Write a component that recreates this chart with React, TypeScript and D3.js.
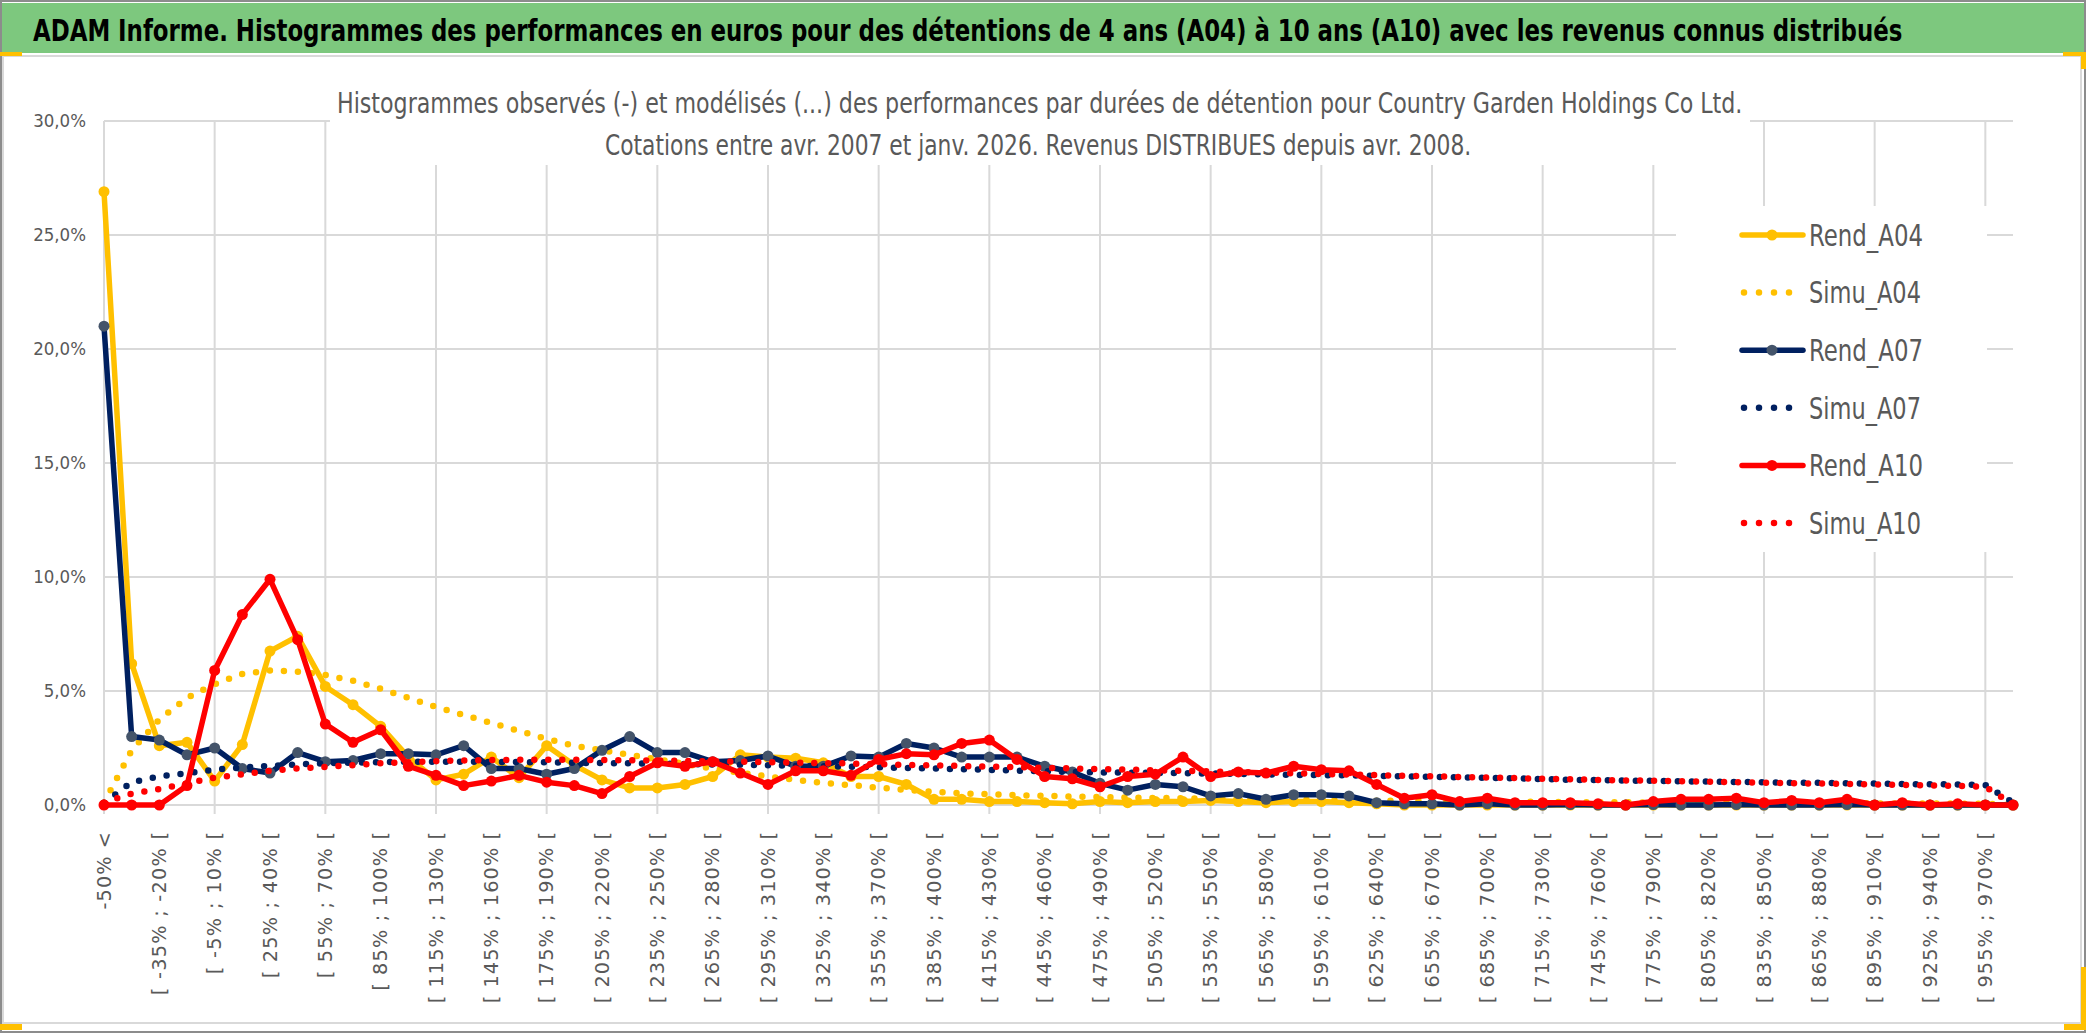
import React, { useLayoutEffect, useRef } from 'react';
import * as d3 from 'd3';

const W = 2086;
const H = 1033;

const categories = [
  '-50% <', '[ -50% ; -35% [', '[ -35% ; -20% [', '[ -20% ; -5% [', '[ -5% ; 10% [', '[ 10% ; 25% [',
  '[ 25% ; 40% [', '[ 40% ; 55% [', '[ 55% ; 70% [', '[ 70% ; 85% [', '[ 85% ; 100% [', '[ 100% ; 115% [',
  '[ 115% ; 130% [', '[ 130% ; 145% [', '[ 145% ; 160% [', '[ 160% ; 175% [', '[ 175% ; 190% [', '[ 190% ; 205% [',
  '[ 205% ; 220% [', '[ 220% ; 235% [', '[ 235% ; 250% [', '[ 250% ; 265% [', '[ 265% ; 280% [', '[ 280% ; 295% [',
  '[ 295% ; 310% [', '[ 310% ; 325% [', '[ 325% ; 340% [', '[ 340% ; 355% [', '[ 355% ; 370% [', '[ 370% ; 385% [',
  '[ 385% ; 400% [', '[ 400% ; 415% [', '[ 415% ; 430% [', '[ 430% ; 445% [', '[ 445% ; 460% [', '[ 460% ; 475% [',
  '[ 475% ; 490% [', '[ 490% ; 505% [', '[ 505% ; 520% [', '[ 520% ; 535% [', '[ 535% ; 550% [', '[ 550% ; 565% [',
  '[ 565% ; 580% [', '[ 580% ; 595% [', '[ 595% ; 610% [', '[ 610% ; 625% [', '[ 625% ; 640% [', '[ 640% ; 655% [',
  '[ 655% ; 670% [', '[ 670% ; 685% [', '[ 685% ; 700% [', '[ 700% ; 715% [', '[ 715% ; 730% [', '[ 730% ; 745% [',
  '[ 745% ; 760% [', '[ 760% ; 775% [', '[ 775% ; 790% [', '[ 790% ; 805% [', '[ 805% ; 820% [', '[ 820% ; 835% [',
  '[ 835% ; 850% [', '[ 850% ; 865% [', '[ 865% ; 880% [', '[ 880% ; 895% [', '[ 895% ; 910% [', '[ 910% ; 925% [',
  '[ 925% ; 940% [', '[ 940% ; 955% [', '[ 955% ; 970% [', '[ 970% ; 985% [',
];

// valeurs en %
const rendA04 = [
  26.9, 6.2, 2.6, 2.75, 1.05, 2.65, 6.75, 7.4, 5.2, 4.4, 3.45, 2.1, 1.1, 1.35, 2.1, 1.2, 2.6, 1.75,
  1.1, 0.75, 0.75, 0.9, 1.25, 2.2, 2.1, 2.05, 1.85, 1.25, 1.25, 0.9, 0.25, 0.25, 0.15, 0.15, 0.1, 0.05,
  0.15, 0.1, 0.15, 0.15, 0.2, 0.15, 0.1, 0.15, 0.15, 0.1, 0.05, 0, 0, 0, 0, 0, 0, 0,
  0, 0, 0, 0, 0, 0, 0, 0, 0, 0, 0, 0, 0, 0, 0, 0,
];
const simuA04 = [
  0.1, 2.4, 3.75, 4.7, 5.3, 5.75, 5.9, 5.85, 5.7, 5.45, 5.1, 4.7, 4.3, 3.95, 3.6, 3.25, 2.9, 2.6,
  2.4, 2.2, 2.0, 1.8, 1.6, 1.42, 1.25, 1.1, 0.97, 0.87, 0.76, 0.66, 0.58, 0.51, 0.47, 0.43, 0.4, 0.37,
  0.35, 0.33, 0.31, 0.29, 0.27, 0.26, 0.24, 0.23, 0.22, 0.2, 0.19, 0.18, 0.17, 0.16, 0.15, 0.14, 0.14, 0.13,
  0.12, 0.12, 0.11, 0.1, 0.1, 0.09, 0.09, 0.08, 0.08, 0.08, 0.07, 0.07, 0.07, 0.06, 0.06, 0.0,
];
const rendA07 = [
  21.0, 3.0, 2.85, 2.2, 2.5, 1.6, 1.4, 2.3, 1.9, 1.95, 2.25, 2.25, 2.2, 2.6, 1.6, 1.6, 1.35, 1.6,
  2.4, 3.0, 2.3, 2.3, 1.9, 1.95, 2.15, 1.7, 1.7, 2.15, 2.1, 2.7, 2.5, 2.1, 2.1, 2.1, 1.7, 1.45,
  0.95, 0.65, 0.9, 0.8, 0.4, 0.5, 0.25, 0.45, 0.45, 0.4, 0.1, 0.05, 0.05, 0.0, 0.05, 0.0, 0.0, 0.02,
  0.0, 0.0, 0.02, 0.0, 0.0, 0.02, 0.0, 0.0, 0.0, 0.02, 0.0, 0.0, 0.0, 0.0, 0.0, 0.0,
];
const simuA07 = [
  0.1, 1.0, 1.25, 1.4, 1.55, 1.65, 1.72, 1.78, 1.83, 1.86, 1.88, 1.9, 1.9, 1.9, 1.89, 1.88, 1.87, 1.85,
  1.84, 1.83, 1.82, 1.8, 1.78, 1.76, 1.74, 1.72, 1.7, 1.68, 1.66, 1.62, 1.6, 1.57, 1.54, 1.51, 1.48, 1.45,
  1.43, 1.42, 1.41, 1.4, 1.38, 1.36, 1.34, 1.32, 1.31, 1.3, 1.28, 1.26, 1.23, 1.21, 1.19, 1.17, 1.14, 1.1,
  1.09, 1.07, 1.06, 1.04, 1.03, 1.01, 1.0, 0.98, 0.97, 0.95, 0.94, 0.92, 0.91, 0.9, 0.88, 0.1,
];
const rendA10 = [
  0, 0, 0, 0.85, 5.9, 8.35, 9.9, 7.25, 3.55, 2.75, 3.3, 1.7, 1.3, 0.85, 1.05, 1.3, 1.0, 0.85,
  0.5, 1.25, 1.85, 1.7, 1.9, 1.4, 0.9, 1.5, 1.5, 1.3, 2.0, 2.25, 2.2, 2.7, 2.85, 2.0, 1.25, 1.15,
  0.8, 1.25, 1.35, 2.1, 1.25, 1.45, 1.4, 1.7, 1.55, 1.5, 0.9, 0.3, 0.45, 0.15, 0.3, 0.1, 0.1, 0.1,
  0.05, 0.0, 0.15, 0.25, 0.25, 0.3, 0.1, 0.2, 0.1, 0.25, 0.0, 0.1, 0.0, 0.05, 0.0, 0.0,
];
const simuA10 = [
  0.1, 0.5, 0.7, 0.95, 1.2, 1.35, 1.5, 1.6, 1.67, 1.75, 1.83, 1.88, 1.92, 1.95, 1.97, 1.98, 1.98, 1.98,
  1.97, 1.96, 1.95, 1.93, 1.92, 1.9, 1.88, 1.86, 1.84, 1.82, 1.79, 1.76, 1.74, 1.71, 1.68, 1.66, 1.63, 1.6,
  1.58, 1.55, 1.52, 1.5, 1.47, 1.44, 1.42, 1.39, 1.36, 1.34, 1.31, 1.28, 1.26, 1.23, 1.2, 1.18, 1.15, 1.13,
  1.1, 1.08, 1.06, 1.04, 1.02, 1.0, 0.98, 0.96, 0.94, 0.92, 0.9, 0.88, 0.86, 0.84, 0.8, 0.02,
];

const yTicks = [0, 5, 10, 15, 20, 25, 30];

const series = [
  { name: 'Rend_A04', values: rendA04, color: '#FFC000', dotted: false, marker: '#FFC000' },
  { name: 'Simu_A04', values: simuA04, color: '#FFC000', dotted: true, marker: null },
  { name: 'Rend_A07', values: rendA07, color: '#002060', dotted: false, marker: '#44546A' },
  { name: 'Simu_A07', values: simuA07, color: '#002060', dotted: true, marker: null },
  { name: 'Rend_A10', values: rendA10, color: '#FF0000', dotted: false, marker: '#FF0000' },
  { name: 'Simu_A10', values: simuA10, color: '#FF0000', dotted: true, marker: null },
];

const TITLE = 'ADAM Informe. Histogrammes des performances en euros pour des détentions de 4 ans (A04) à 10 ans (A10) avec les revenus connus distribués';
const SUB1 = 'Histogrammes observés (-) et modélisés (...) des performances par durées de détention pour Country Garden Holdings Co Ltd.';
const SUB2 = 'Cotations entre avr. 2007 et janv. 2026. Revenus DISTRIBUES depuis avr. 2008.';

const condensed = "'DejaVu Sans Condensed', 'DejaVu Sans', sans-serif";
const grey = '#595959';
const gridColor = '#D9D9D9';

// largeurs (em) façon Verdana pour les étiquettes de l'axe X
const verdana: Record<string, number> = { ' ': 0.352, '%': 1.076, '[': 0.454, ';': 0.454, '-': 0.431, '<': 0.818 };
const labelLen = (s: string, size: number) =>
  s.split('').reduce((a, c) => a + (verdana[c] ?? 0.636), 0) * size;

export default function App() {
  const svgRef = useRef<SVGSVGElement>(null);

  const x = d3.scalePoint<string>().domain(categories).range([104, 2013]);
  const y = d3.scaleLinear().domain([0, 30]).range([805, 121]);
  const xi = (i: number) => x(categories[i]) as number;

  const line = d3.line<number>()
    .x((_, i) => xi(i))
    .y(d => y(d));

  const gridX = categories.map((_, i) => i).filter(i => i % 4 === 0);

  // ajuste la largeur des textes longs sur celle de la référence
  useLayoutEffect(() => {
    d3.select(svgRef.current).selectAll<SVGTextElement, unknown>('text[data-fit]').each(function () {
      const target = +(this.getAttribute('data-fit') as string);
      const x0 = +(this.getAttribute('x') as string);
      const len = this.getComputedTextLength();
      if (len > 0) {
        const k = target / len;
        this.setAttribute('transform', `translate(${x0},0) scale(${k},1) translate(${-x0},0)`);
      }
    });
  }, []);

  return (
    <div style={{ position: 'absolute', left: 0, top: 0 }}>
      <svg ref={svgRef} width={W} height={H} style={{ display: 'block', background: '#fff' }}>
        {/* cadre et bandeau */}
        <rect x={1} y={1} width={W - 2} height={H - 2} fill="#fff" stroke="#8C8C8C" strokeWidth={2} />
        <rect x={2} y={3} width={W - 4} height={50} fill="#7DC87E" />
        <text data-fit={1870} x={33} y={41} fontFamily={condensed} fontWeight="bold" fontSize={31} fill="#000">
          {TITLE}
        </text>
        <rect x={3} y={56} width={2078} height={967} fill="#fff" stroke={gridColor} strokeWidth={2} />

        {/* poignées jaunes */}
        <rect x={0} y={52} width={22} height={4} fill="#FFC000" />
        <rect x={0} y={1024} width={22} height={6} fill="#FFC000" />
        <rect x={2063} y={52} width={23} height={4} fill="#FFC000" />
        <rect x={2081} y={52} width={5} height={17} fill="#FFC000" />
        <rect x={2081} y={967} width={5} height={63} fill="#FFC000" />
        <rect x={2064} y={1024} width={22} height={6} fill="#FFC000" />

        {/* grille */}
        {yTicks.map(t => (
          <line key={'h' + t} x1={104} x2={2013} y1={y(t)} y2={y(t)} stroke={gridColor} strokeWidth={2} />
        ))}
        {gridX.map(i => (
          <line key={'v' + i} x1={xi(i)} x2={xi(i)} y1={y(30)} y2={y(0) + 9} stroke={gridColor} strokeWidth={2} />
        ))}

        {/* zones blanches du titre et de la légende */}
        <rect x={330} y={60} width={1420} height={105} fill="#fff" />
        <rect x={1676} y={206} width={311} height={346} fill="#fff" />

        <text data-fit={1406} x={337} y={113} fontFamily={condensed} fontSize={27.5} fill={grey}>{SUB1}</text>
        <text data-fit={867} x={605} y={155} fontFamily={condensed} fontSize={27.5} fill={grey}>{SUB2}</text>

        {/* axe Y */}
        {yTicks.map(t => (
          <text key={'yl' + t} x={86} y={y(t)} dy="0.35em" textAnchor="end"
            fontFamily={condensed} fontSize={18.5} fill={grey}>
            {t.toFixed(1).replace('.', ',') + '%'}
          </text>
        ))}

        {/* axe X */}
        {categories.map((c, i) => i % 2 === 0 ? (
          <text key={'xl' + i} transform={`translate(${xi(i)},832) rotate(-90)`} dy="0.35em"
            textAnchor="end" fontFamily="'DejaVu Sans', sans-serif" fontSize={19.3} fill={grey}
            textLength={labelLen(c, 19.6)} lengthAdjust="spacing">
            {c}
          </text>
        ) : null)}

        {/* séries */}
        {series.map(s => (
          <g key={s.name}>
            <path d={line(s.values) ?? ''} fill="none" stroke={s.color}
              strokeWidth={s.dotted ? 6.5 : 5.5}
              strokeLinecap="round" strokeLinejoin="round"
              strokeDasharray={s.dotted ? '0 14' : undefined} />
            {s.marker && s.values.map((v, i) => (
              <circle key={i} cx={xi(i)} cy={y(v)} r={5.5} fill={s.marker!} />
            ))}
          </g>
        ))}

        {/* légende */}
        {series.map((s, k) => {
          const cy = 235 + k * 57.6;
          return (
            <g key={'lg' + s.name}>
              {s.dotted ? (
                <line x1={1744} x2={1800} y1={cy} y2={cy} stroke={s.color} strokeWidth={6.5}
                  strokeLinecap="round" strokeDasharray="0 15" />
              ) : (
                <>
                  <line x1={1742} x2={1803} y1={cy} y2={cy} stroke={s.color} strokeWidth={5.5} strokeLinecap="round" />
                  <circle cx={1772} cy={cy} r={5.5} fill={s.marker!} />
                </>
              )}
              <text data-fit={s.dotted ? 112 : 114} x={1809} y={cy} dy="0.36em"
                fontFamily={condensed} fontSize={30} fill={grey}>{s.name}</text>
            </g>
          );
        })}
      </svg>
    </div>
  );
}
